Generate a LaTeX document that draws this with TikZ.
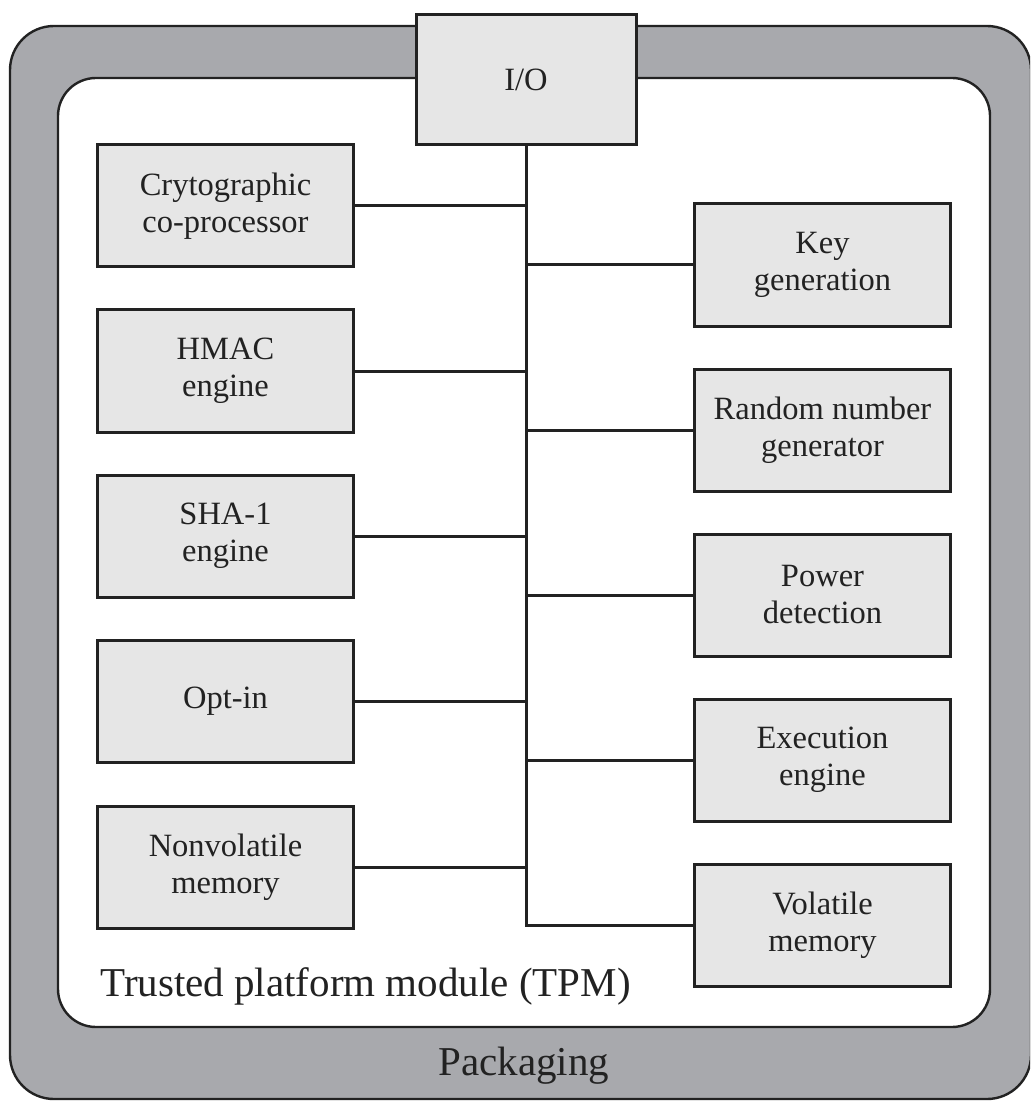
\documentclass[tikz,border=0pt]{standalone}
\usepackage{fontspec}
\setmainfont{Liberation Serif}
\definecolor{pkg}{HTML}{A8A9AD}
\definecolor{boxfill}{HTML}{E6E6E6}
\definecolor{ink}{HTML}{222222}
\begin{document}
\begin{tikzpicture}[x=0.5pt,y=-0.5pt,
  blk/.style={draw=ink, fill=boxfill, line width=1.5pt, minimum width=128pt, minimum height=61pt,
    inner sep=0pt, align=center, font=\fontsize{16.25}{18.5}\selectfont, text=ink},
  wire/.style={draw=ink, line width=1.5pt},
  biglabel/.style={anchor=base west, inner sep=0pt, font=\fontsize{20.5}{24}\selectfont, text=ink}]
\useasboundingbox (0,0) rectangle (1030,1101);
\clip (0,0) rectangle (1030,1101);
% packaging and module outlines
\draw[fill=pkg, draw=ink, line width=1.2pt, rounded corners=22pt] (10,26) rectangle (1031,1099);
\draw[fill=white, draw=ink, line width=1.2pt, rounded corners=19pt] (58,78) rectangle (990,1027);
% I/O
\node[blk, minimum width=110pt, minimum height=65pt] (io) at (526,80) {I/O};
% left column
\node[blk] (cc) at (225.5,206) {Crytographic\\co-processor};
\node[blk] (hm) at (225.5,371) {HMAC\\engine};
\node[blk] (sh) at (225.5,536) {SHA-1\\engine};
\node[blk] (oi) at (225.5,701) {Opt-in};
\node[blk] (nv) at (225.5,867) {Nonvolatile\\memory};
% right column
\node[blk] (kg) at (822.5,265) {Key\\generation};
\node[blk] (rn) at (822.5,430) {Random number\\generator};
\node[blk] (pd) at (822.5,595) {Power\\detection};
\node[blk] (ee) at (822.5,760) {Execution\\engine};
\node[blk] (vm) at (822.5,925) {Volatile\\memory};
% bus
\draw[wire] (io.south) -- (io.south |- vm.west) -- (vm.west);
\foreach \n in {cc,hm,sh,oi,nv} \draw[wire] (\n.east) -- (\n.east -| io.south);
\foreach \n in {kg,rn,pd,ee} \draw[wire] (\n.west) -- (\n.west -| io.south);
% labels
\node[biglabel] (tpm) at (100,996) {Trusted platform module (TPM)};
\node[biglabel] (pk) at (438,1075) {Packaging};
\end{tikzpicture}
\end{document}
